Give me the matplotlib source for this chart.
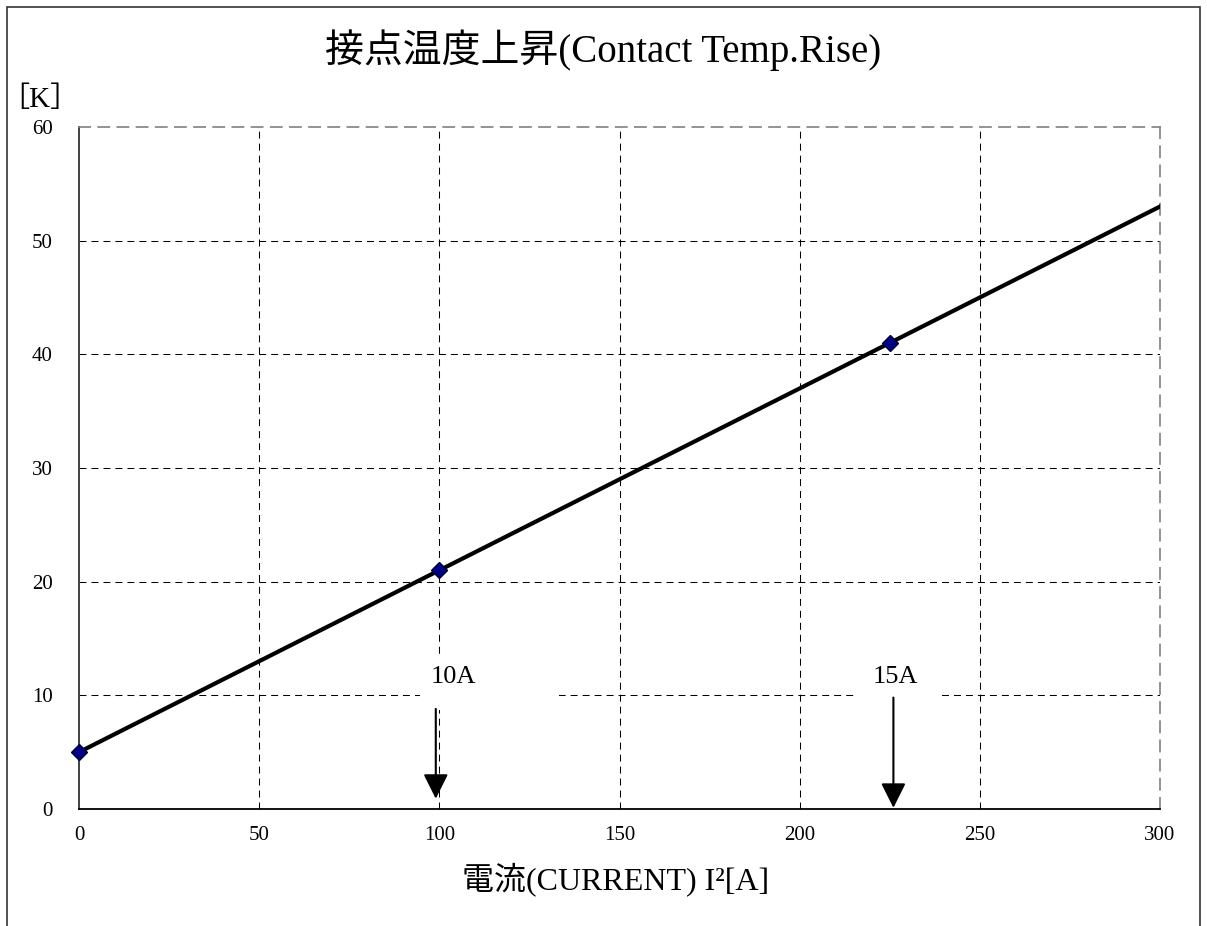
import numpy as np
import matplotlib
matplotlib.use('Agg')
import matplotlib.pyplot as plt
from matplotlib.patches import Rectangle

plt.rcParams['font.family'] = ['Liberation Serif', 'Noto Sans CJK JP']

# measured points: current squared vs. temperature rise
current_sq = [0, 100, 225]
temp_rise = [5, 21, 41]

x_ticks = [0, 50, 100, 150, 200, 250, 300]
y_ticks = [0, 10, 20, 30, 40, 50, 60]

# arrow markers for rated currents
marker_labels = ['10A', '15A']
marker_x = [99, 226]

fig = plt.figure(figsize=(12.07, 9.26), dpi=100)
ax = fig.add_axes([0.0655, 0.1264, 0.8956, 0.7365])

# frame around whole picture
fig.patches.append(Rectangle((7 / 1207, -0.05), 1193 / 1207, 1.05 - 7 / 926,
                             transform=fig.transFigure, fill=False,
                             ec='#333333', lw=1.2))

dash = (0, (6.7, 4.8))
ax.set_xlim(0, 300)
ax.set_ylim(0, 60)
ax.set_xticks(x_ticks)
ax.set_yticks(y_ticks)
ax.tick_params(length=0, labelsize=15, pad=12)
ax.tick_params(axis='y', pad=19)
for v in x_ticks[1:-1]:
    ax.axvline(v, color='black', lw=0.75, ls=dash, zorder=0.5)
for v in y_ticks[1:-1]:
    ax.axhline(v, color='black', lw=0.75, ls=dash, zorder=0.5)

for side in ['top', 'right']:
    ax.spines[side].set_color('#808080')
    ax.spines[side].set_linestyle(dash)
    ax.spines[side].set_linewidth(1.2)
ax.spines['left'].set_color('#333333')
ax.spines['left'].set_linewidth(1.3)
ax.spines['bottom'].set_color('black')
ax.spines['bottom'].set_linewidth(1.3)

# linear trend line across full range
coef = np.polyfit(current_sq, temp_rise, 1)
xs = np.array([0, 300])
ax.plot(xs, np.polyval(coef, xs), color='black', lw=3, zorder=3)
ax.plot(current_sq, temp_rise, ls='none', marker='D', ms=8,
        color='#000080', mec='#000040', zorder=4, clip_on=False)

# white label boxes hiding the grid
ax.add_patch(Rectangle((94.6, 8.7), 38.6, 4.8, fc='white', ec='none', zorder=1))
ax.add_patch(Rectangle((215.7, 9.8), 23.3, 3.7, fc='white', ec='none', zorder=1))

for lab, xv, y0, y1, ty in zip(marker_labels, marker_x, [8.8, 9.8], [0.9, 0.1], [11.6, 11.6]):
    ax.annotate('', xy=(xv, y1), xytext=(xv, y0),
                arrowprops=dict(arrowstyle='-|>', color='black', lw=1.5,
                                mutation_scale=38, shrinkA=0, shrinkB=0),
                zorder=3)
    ax.text(xv + 5 if lab == '10A' else xv + 0.5, ty, lab, ha='center', va='center',
            fontsize=19, zorder=3)

fig.text(0.5, 0.946, '接点温度上昇(Contact Temp.Rise)', ha='center', va='center',
         fontsize=28)
fig.text(0.0, 0.892, '［K］', ha='left', va='center', fontsize=21)
fig.text(0.51, 0.05, '電流(CURRENT) I²[A]', ha='center', va='center', fontsize=23)

fig.savefig('out.png', dpi=100)
plt.close(fig)
